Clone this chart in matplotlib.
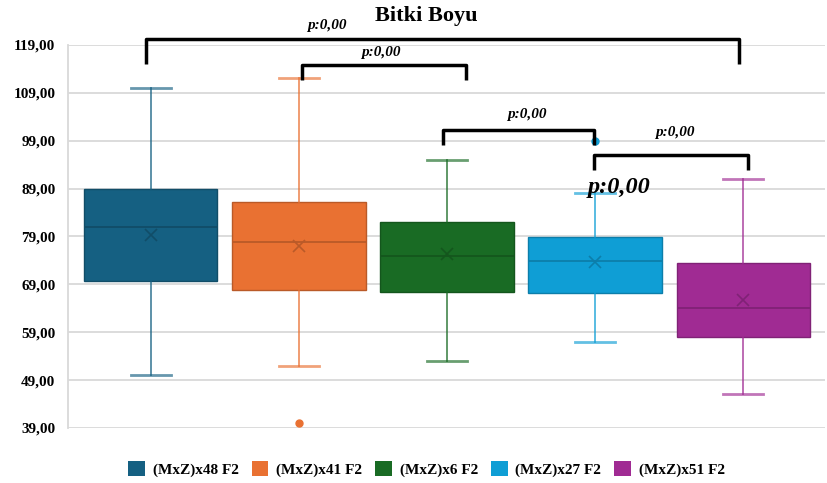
import numpy as np
import matplotlib.pyplot as plt
from matplotlib.patches import Patch
from matplotlib.colors import to_rgb

plt.rcParams['font.family'] = ['Liberation Serif', 'DejaVu Serif']

# Veri
gruplar = ['(MxZ)x48 F2', '(MxZ)x41 F2', '(MxZ)x6 F2', '(MxZ)x27 F2', '(MxZ)x51 F2']
renkler = ['#156082', '#E97132', '#196B24', '#0F9ED5', '#A02B93']
alt_biyik = [50.0, 52.0, 53.0, 57.0, 46.0]
q1 = [69.7, 67.8, 67.3, 67.1, 57.9]
medyan = [81.0, 77.9, 74.9, 73.9, 64.0]
q3 = [88.9, 86.2, 82.0, 78.9, 73.5]
ust_biyik = [110.0, 112.0, 95.0, 88.0, 91.0]
ortalama = [79.3, 77.0, 75.4, 73.7, 65.7]
aykiri = [[], [40.0], [], [99.0], []]

# Karsilastirmalar: parantez baslangic/bitis, ust seviye, bacak uzunlugu, etiket
parantez_x1 = [-0.03, 1.02, 1.97, 2.99]
parantez_x2 = [3.97, 2.13, 2.99, 4.03]
parantez_ust = [120.25, 114.8, 101.25, 96.0]
parantez_bacak = [5.2, 3.2, 3.2, 3.2]
etiketler = ['p:0,00', 'p:0,00', 'p:0,00', 'p:0,00']
etiket_x = [1.19, 1.55, 2.54, 3.54]
etiket_y = [123.0, 117.5, 104.4, 100.8]
yticks = np.arange(39, 120, 10)

fig = plt.figure(figsize=(8.28, 4.83), dpi=100)
ax = fig.add_axes([0.082, 0.114, 0.914, 0.793])

stats = []
for i in range(len(gruplar)):
    stats.append(dict(med=medyan[i], q1=q1[i], q3=q3[i], whislo=alt_biyik[i],
                      whishi=ust_biyik[i], mean=ortalama[i], fliers=aykiri[i]))

for i, s in enumerate(stats):
    c = renkler[i]
    koyu = tuple(np.array(to_rgb(c)) * 0.8)
    ax.bxp([s], positions=[i], widths=0.9, patch_artist=True, showmeans=True,
           boxprops=dict(facecolor=c, edgecolor=koyu, linewidth=1.0),
           medianprops=dict(color=koyu, linewidth=1.3),
           whiskerprops=dict(color=c, linewidth=1.3, alpha=0.75),
           capprops=dict(color=c, linewidth=2, alpha=0.65),
           capwidths=0.27,
           meanprops=dict(marker='x', markeredgecolor=koyu, markersize=9, markeredgewidth=1.2),
           flierprops=dict(marker='o', markerfacecolor=c, markeredgecolor=c, markersize=5),
           zorder=3)

ax.set_xlim(-0.56, 4.55)
ax.set_ylim(39, 119)
ax.set_yticks(yticks)
ax.set_yticklabels(['%d,00' % v for v in yticks], fontsize=11, fontweight='bold')
ax.set_xticks([])
ax.grid(axis='y', color='#d9d9d9', linewidth=1.3, zorder=0)
ax.set_axisbelow(True)
for k in ['top', 'right', 'bottom']:
    ax.spines[k].set_visible(False)
ax.spines['left'].set_color('#d9d9d9')
ax.spines['left'].set_linewidth(1.3)
ax.tick_params(axis='y', length=0, pad=9)

# Anlamlilik parantezleri
for i in range(len(etiketler)):
    x1, x2, h, b = parantez_x1[i], parantez_x2[i], parantez_ust[i], parantez_bacak[i]
    ax.plot([x1, x1, x2, x2], [h - b, h, h, h - b], color='black', linewidth=2.5,
            solid_joinstyle='round', solid_capstyle='butt', clip_on=False, zorder=5)
    ax.text(etiket_x[i], etiket_y[i], etiketler[i], ha='center', va='center', fontsize=11,
            fontweight='bold', fontstyle='italic', clip_on=False)
ax.text(3.16, 89.3, 'p:0,00', ha='center', va='center', fontsize=17.5, fontweight='bold',
        fontstyle='italic', zorder=6)

fig.text(0.515, 0.966, 'Bitki Boyu', ha='center', va='center', fontsize=16, fontweight='bold')

handles = [Patch(facecolor=c, edgecolor='none') for c in renkler]
fig.legend(handles, gruplar, loc='center', bbox_to_anchor=(0.515, 0.029), ncol=5,
           frameon=False, prop=dict(size=11, weight='bold'), handlelength=1.1,
           handleheight=1.1, handletextpad=0.5, columnspacing=0.85)

fig.savefig('out.png', dpi=100)
